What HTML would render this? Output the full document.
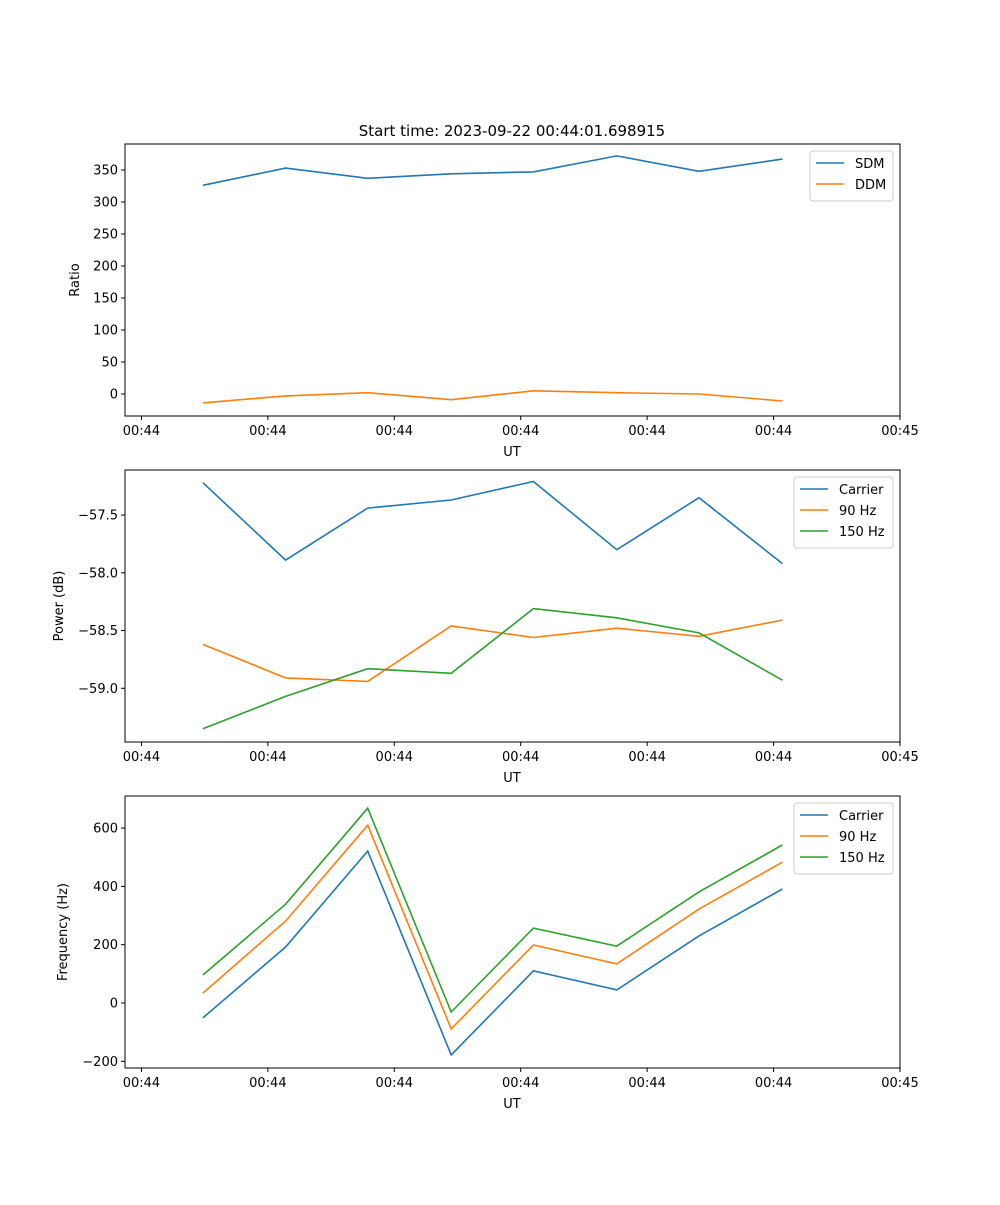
<!DOCTYPE html>
<html><head><meta charset="utf-8"><style>
body{margin:0;background:#fff;}
svg text{font-family:"DejaVu Sans","Liberation Sans",sans-serif;fill:#000;}
</style></head><body>
<svg id="fig" width="1000" height="1200" xmlns="http://www.w3.org/2000/svg">
<rect width="1000" height="1200" fill="#fff"/>
<text x="512" y="136" font-size="15" text-anchor="middle">Start time: 2023-09-22 00:44:01.698915</text>
</svg>
<script>
const times = [4.86, 11.4, 17.9, 24.5, 31.0, 37.6, 44.1, 50.7];
const xTickVals = [0, 10, 20, 30, 40, 50, 60];
const xTickLabels = ["00:44","00:44","00:44","00:44","00:44","00:44","00:45"];
const sdm = [326, 353, 337, 344, 347, 372, 348, 367];
const ddm = [-14, -3, 2, -9, 5, 2, 0, -11];
const ratioTicks = [0, 50, 100, 150, 200, 250, 300, 350];
const pCarrier = [-57.22, -57.89, -57.44, -57.37, -57.21, -57.80, -57.35, -57.92];
const p90 = [-58.62, -58.91, -58.94, -58.46, -58.56, -58.48, -58.55, -58.41];
const p150 = [-59.35, -59.07, -58.83, -58.87, -58.31, -58.39, -58.52, -58.93];
const powerTicks = [-59.0, -58.5, -58.0, -57.5];
const powerTickLabels = ["\u221259.0", "\u221258.5", "\u221258.0", "\u221257.5"];
const fCarrier = [-51, 192, 521, -178, 110, 45, 230, 391];
const f90 = [34, 281, 610, -89, 199, 134, 322, 483];
const f150 = [96, 339, 668, -31, 257, 195, 381, 542];
const freqTicks = [-200, 0, 200, 400, 600];
const freqTickLabels = ["\u2212200", "0", "200", "400", "600"];

const NS = "http://www.w3.org/2000/svg";
const svg = document.getElementById('fig');
function el(tag, attrs, parent){
  const e = document.createElementNS(NS, tag);
  for (const k in attrs) e.setAttribute(k, attrs[k]);
  (parent||svg).appendChild(e); return e;
}
const L = 125, R = 900;
const xMin = -1.3, xMax = 60;
const xs = v => L + (v - xMin) / (xMax - xMin) * (R - L);

function panel(name, top, bottom, yMin, yMax, yTicks, yLabels, yTitle, yTitleX, series, legend){
  const g = el('g', {});
  
  
  const ys = v => bottom - (v - yMin) / (yMax - yMin) * (bottom - top);
  series.forEach(s => {
    const pts = s.vals.map((v, i) => xs(times[i]).toFixed(1) + ',' + ys(v).toFixed(1)).join(' ');
    const p = el('polyline', {points: pts, fill: 'none', stroke: s.color, 'stroke-width': 1.6}, g);
    
    
  });
  el('rect', {x: L, y: top, width: R - L, height: bottom - top, fill: 'none', stroke: '#000', 'stroke-width': 1}, g);
  xTickVals.forEach((v, i) => {
    const x = xs(v);
    el('line', {x1: x, x2: x, y1: bottom, y2: bottom + 4, stroke: '#000'}, g);
    const t = el('text', {x: x, y: bottom + 19, 'font-size': 13, 'text-anchor': 'middle'}, g);
    t.textContent = xTickLabels[i];
    
    
  });
  const xt = el('text', {x: 512, y: bottom + 40, 'font-size': 13, 'text-anchor': 'middle'}, g);
  xt.textContent = 'UT';
  
  
  yTicks.forEach((v, i) => {
    const y = ys(v);
    el('line', {x1: L - 4, x2: L, y1: y, y2: y, stroke: '#000'}, g);
    const t = el('text', {x: L - 7, y: y + 4.5, 'font-size': 13, 'text-anchor': 'end'}, g);
    t.textContent = yLabels[i];
    
    
  });
  const yt = el('text', {x: yTitleX, y: (top + bottom) / 2, 'font-size': 13, 'text-anchor': 'middle', transform: `rotate(-90 ${yTitleX} ${(top + bottom) / 2})`}, g);
  yt.textContent = yTitle;
  
  
  // legend
  const lw = legend.w, lh = 8 + series.length * 21;
  const lx = R - 7 - lw, ly = top + 7;
  const lg = el('g', {}, g);
  
  
  el('rect', {x: lx, y: ly, width: lw, height: lh, rx: 3, fill: '#fff', stroke: '#ccc', 'fill-opacity': 0.8}, lg);
  series.forEach((s, i) => {
    const yy = ly + 12 + i * 21;
    el('line', {x1: lx + 6, x2: lx + 34, y1: yy, y2: yy, stroke: s.color, 'stroke-width': 1.6}, lg);
    const t = el('text', {x: lx + 45, y: yy + 5, 'font-size': 13}, lg);
    t.textContent = s.label;
    
    
  });
}
const BLUE = '#1f77b4', ORANGE = '#ff7f0e', GREEN = '#2ca02c';
panel('ratio-panel', 144, 416, -34.4, 390.6, ratioTicks, ratioTicks.map(String), 'Ratio', 79,
  [{name: 'sdm-line', label: 'SDM', vals: sdm, color: BLUE}, {name: 'ddm-line', label: 'DDM', vals: ddm, color: ORANGE}], {w: 83});
panel('power-panel', 470, 742, -59.465, -57.11, powerTicks, powerTickLabels, 'Power (dB)', 63,
  [{name: 'carrier-power-line', label: 'Carrier', vals: pCarrier, color: BLUE}, {name: '90hz-power-line', label: '90 Hz', vals: p90, color: ORANGE}, {name: '150hz-power-line', label: '150 Hz', vals: p150, color: GREEN}], {w: 99});
panel('frequency-panel', 796, 1068, -223, 710, freqTicks, freqTickLabels, 'Frequency (Hz)', 67,
  [{name: 'carrier-freq-line', label: 'Carrier', vals: fCarrier, color: BLUE}, {name: '90hz-freq-line', label: '90 Hz', vals: f90, color: ORANGE}, {name: '150hz-freq-line', label: '150 Hz', vals: f150, color: GREEN}], {w: 99});
</script>
</body></html>
